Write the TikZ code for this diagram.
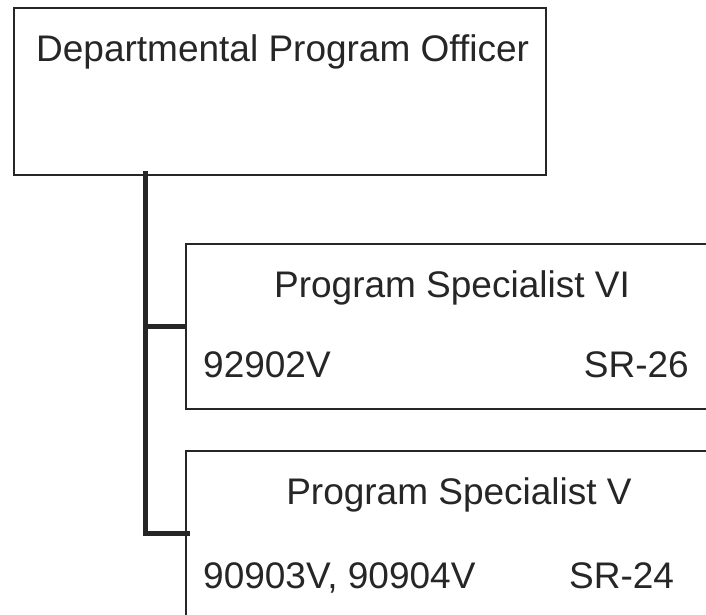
\documentclass[tikz,border=0pt]{standalone}
\usepackage{fontspec}
\setmainfont{Liberation Sans}
\begin{document}
\begin{tikzpicture}[x=1pt,y=-1pt,
  box/.style={draw=ink, line width=1.8pt, fill=white, inner sep=0pt, anchor=north west},
  lbl/.style={text=ink, inner sep=0pt, font=\fontsize{37}{40}\selectfont},
  trunk/.style={draw=ink, line width=5pt}]
\definecolor{ink}{HTML}{262626}
\clip (0,0) rectangle (706,615);
\fill[white] (0,0) rectangle (706,615);
% boxes
\node[box, minimum width=532pt, minimum height=167pt] (dpo) at (13,7) {};
\node[box, minimum width=540pt, minimum height=165pt] (ps6) at (185,243) {};
\node[box, minimum width=540pt, minimum height=190pt] (ps5) at (185,450) {};
% labels
\node[lbl, anchor=base west] (tdpo) at (36,62) {Departmental Program Officer};
\node[lbl, anchor=base] (tps6) at (452,297) {Program Specialist VI};
\node[lbl, anchor=base west] (c6) at (203,377) {92902V};
\node[lbl, anchor=base east] (g6) at (689,377) {SR-26};
\node[lbl, anchor=base] (tps5) at (459,504) {Program Specialist V};
\node[lbl, anchor=base west] (c5) at (203,588) {90903V, 90904V};
\node[lbl, anchor=base west] (g5) at (569,588) {SR-24};
% connectors
\coordinate (top) at (145,173);
\coordinate (j6) at (187,326);
\coordinate (j5) at (187,533);
\draw[trunk, line cap=rect] (top) |- (j5);
\draw[trunk] (top |- j6) -- (j6);
\end{tikzpicture}
\end{document}
